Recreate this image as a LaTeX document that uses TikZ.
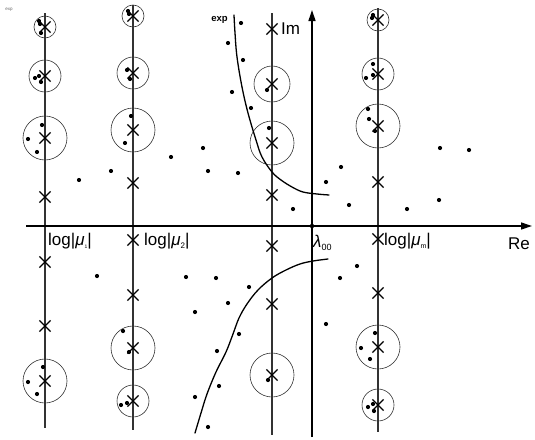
\documentclass[tikz,border=0pt]{standalone}
\usepackage{fontspec}
\setmainfont{Liberation Sans}
\usetikzlibrary{shapes.misc,arrows.meta}
\begin{document}
\begin{tikzpicture}[x=1pt,y=-1pt,
  vline/.style={draw=black!80,line width=1.1pt},
  axis/.style={draw=black,line width=1.3pt,-{Triangle[length=11pt,width=7pt]}},
  circ/.style={circle,draw=black!80,line width=0.6pt,inner sep=0pt,minimum size=#1},
  xm/.style={cross out,draw=black,line width=1.2pt,inner sep=0pt,minimum width=10pt,minimum height=10pt},
  curve/.style={draw=black,line width=1.3pt,line join=round,line cap=round},
  lbl/.style={font=\fontsize{17}{17}\selectfont,inner sep=0pt},
  dot/.style={fill=black}]
\useasboundingbox (0,0) rectangle (535,439);
% vertical lines
\coordinate (l1t) at (45,13);  \coordinate (l1b) at (45,428);
\coordinate (l2t) at (133,5);  \coordinate (l2b) at (133,430);
\coordinate (l3t) at (272,13); \coordinate (l3b) at (272,435);
\coordinate (l4t) at (378,8);  \coordinate (l4b) at (378,432);
\draw[vline] (l1t) -- (l1b);
\draw[vline] (l2t) -- (l2b);
\draw[vline] (l3t) -- (l3b);
\draw[vline] (l4t) -- (l4b);
% axes
\coordinate (reS) at (26,226); \coordinate (reE) at (532,226);
\coordinate (imS) at (312,437); \coordinate (imE) at (312,10);
\draw[axis] (reS) -- (reE);
\draw[axis] (imS) -- (imE);
% circles
\foreach \n/\x/\y/\d in {a1/45/27/22, a2/45/76/32, a3/45/138/44, a4/45/381/44,
  b1/133/16/22, b2/133/73/32, b3/133/130/44, b4/133/348/44, b5/133/401/32,
  c1/272/84/36, c2/272/143/44, c3/272/375/44,
  d1/378/20/22, d2/378/74/32, d3/378/126/44, d4/378/347/44, d5/378/405/32}
  \node[circ=\d pt] (\n) at (\x,\y) {};
% crosses
\foreach \n/\x/\y in {xa1/45/27, xa2/45/76, xa3/45/138, xa4/45/197, xa5/45/262, xa6/45/326, xa7/45/381,
  xb1/133/16, xb2/133/73, xb3/133/130, xb4/133/183, xb5/133/240, xb6/133/295, xb7/133/348, xb8/133/401,
  xc1/272/29, xc2/272/84, xc3/272/143, xc4/272/195, xc5/272/246, xc6/272/304, xc7/272/375,
  xd1/378/20, xd2/378/74, xd3/378/126, xd4/378/182, xd5/378/239, xd6/378/293, xd7/378/347, xd8/378/405}
  \node[xm] (\n) at (\x,\y) {};
% dots
\foreach \x/\y in {39/21,40/24,41/33, 35/78,39/76,41/82, 42/125,28/139,37/152,
  128/11,129/14, 127/70,130/79, 131/116,125/143, 171/157,
  241/23,228/43,243/60,232/92,251/108,267/90,269/128,203/148,
  373/15,372/18, 373/64,366/78,373/75, 368/109,369/119,375/131,
  440/148,469/150, 79/180,111/171, 97/276,
  208/171,238/173,341/167,326/182,349/205,293/209,357/266,186/277,216/278,249/287,340/278,
  407/209,439/200,
  43/367,28/382,37/394, 123/331,129/352, 121/405,127/403,
  228/303,195/312,239/334,217/351,219/386,195/397,208/427,268/380,326/324,
  375/333,361/348,370/359, 368/407,373/404,374/411}
  \fill[dot] (\x,\y) circle (2.1pt);
% lambda point
\node[circle,fill=black,inner sep=0pt,minimum size=4.5pt] (lam) at (312,226) {};
% curves
\draw[curve] plot[smooth,tension=0.6] coordinates {(234,15) (235,33) (237,57) (242,87) (248,113) (256,140) (262,157) (272,172) (281,180) (292,187) (303,192) (317,194) (329,195)};
\draw[curve] plot[smooth,tension=0.6] coordinates {(328,259) (313,261) (300,264) (286,270) (272,278) (258,290) (247,304) (239,318) (233,334) (226,352) (216,372) (207,394) (201,413) (195,433)};
% labels
\node[font=\bfseries\fontsize{9.5}{9.5}\selectfont,inner sep=0pt,anchor=east] (explbl) at (228,20) {exp};
\node[font=\fontsize{4.5}{4.5}\selectfont,text=black!60,inner sep=0pt] (exptiny) at (9,10) {exp};
\node[lbl,anchor=west] (im) at (281,28.5) {Im};
\node[lbl,anchor=west] (re) at (508,244) {Re};
\node[lbl,anchor=west] (mu1) at (48,241) {log|\textit{μ}\raisebox{-3pt}{\fontsize{5}{5}\selectfont 1}|};
\node[lbl,anchor=west] (mu2) at (144,241) {log|\textit{μ}\raisebox{-3pt}{\fontsize{8}{8}\selectfont 2}|};
\node[lbl,anchor=west] (mum) at (384,241) {log|\textit{μ}\raisebox{-3pt}{\fontsize{7}{7}\selectfont m}|};
\node[lbl,anchor=west] (l00) at (313,243) {\textit{λ}\raisebox{-3pt}{\fontsize{9}{9}\selectfont 00}};
\end{tikzpicture}
\end{document}
